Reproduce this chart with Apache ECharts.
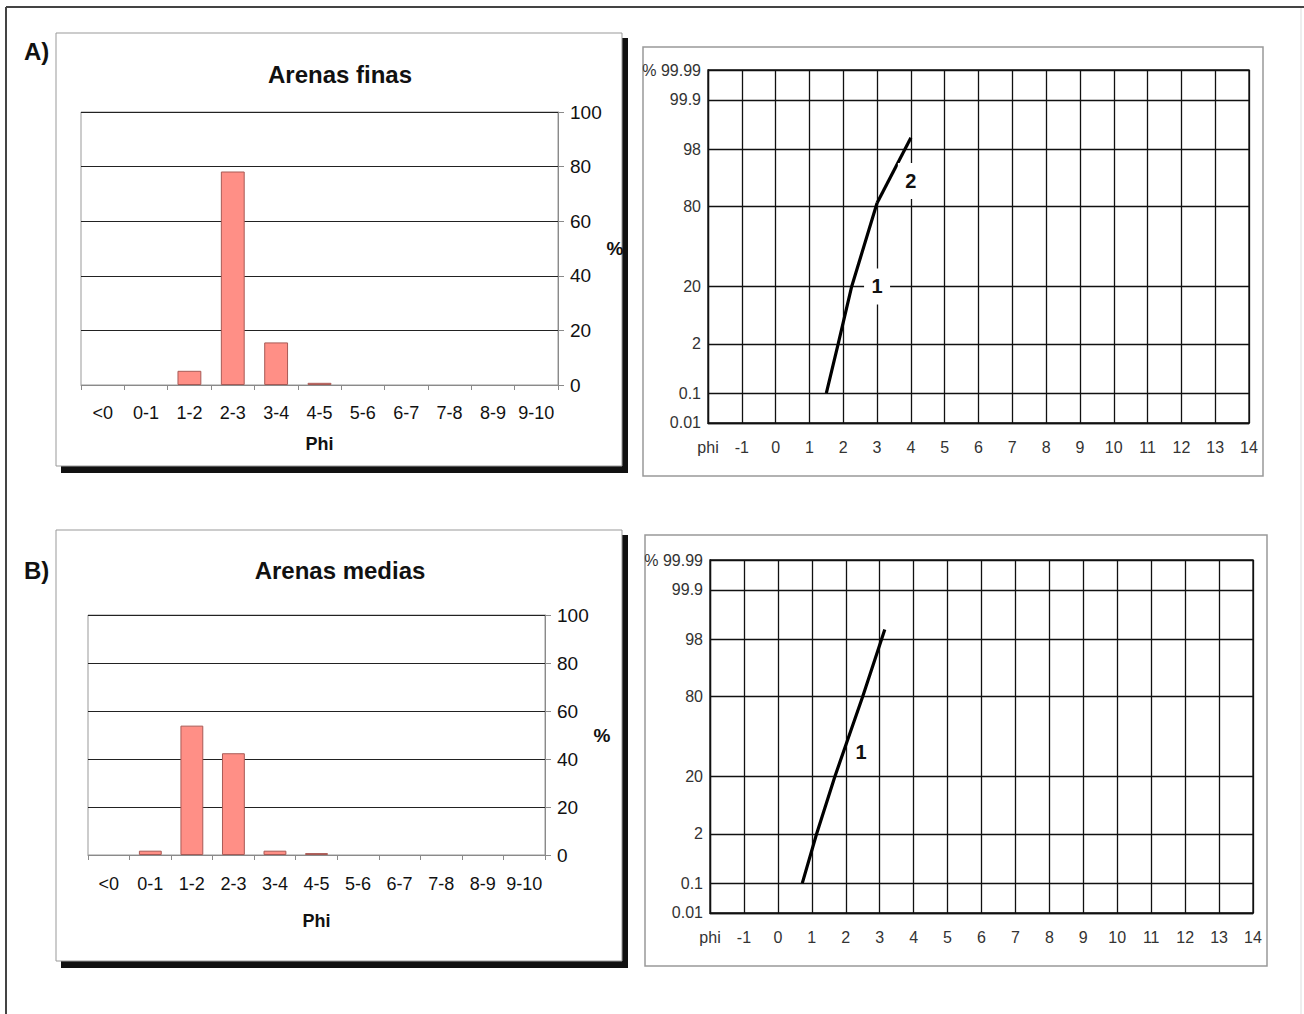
<!DOCTYPE html>
<html><head><meta charset="utf-8">
<script src="https://cdn.jsdelivr.net/npm/echarts@6/dist/echarts.min.js"></script>
<style>html,body{margin:0;padding:0;background:#fff}#c{width:1304px;height:1014px}</style>
</head><body><div id="c"></div>
<script>
// ---------- data ----------
const phiCats = ['<0','0-1','1-2','2-3','3-4','4-5','5-6','6-7','7-8','8-9','9-10'];
const finasPct = [0, 0, 5.2, 78.2, 15.6, 0.8, 0, 0, 0, 0, 0];
const mediasPct = [0, 1.8, 53.9, 42.4, 1.8, 0.8, 0, 0, 0, 0, 0];
const probTicks = [0.01, 0.1, 2, 20, 80, 98, 99.9, 99.99];
const phiMin = -2, phiMax = 14;
// cumulative curves [phi, cumulative %]
const finasSeg1 = [[1.5, 0.1], [1.85, 2], [2.25, 20], [3.0, 82]];
const finasSeg2 = [[3.0, 82], [4.0, 98.9]];
const mediasSeg1 = [[0.72, 0.1], [1.14, 2], [1.68, 20], [2.5, 80], [3.15, 98.8]];
// segment labels [phi, %, text]
const finasNotes = [[3.0, 20, '1'], [4.0, 91.6, '2']];
const mediasNotes = [[2.45, 37, '1']];

// ---------- probability (probit) scale ----------
function probit(p){
  const a=[-3.969683028665376e+01,2.209460984245205e+02,-2.759285104469687e+02,1.383577518672690e+02,-3.066479806614716e+01,2.506628277459239e+00];
  const b=[-5.447609879822406e+01,1.615858368580409e+02,-1.556989798598866e+02,6.680131188771972e+01,-1.328068155288572e+01];
  const c=[-7.784894002430293e-03,-3.223964580411365e-01,-2.400758277161838e+00,-2.549732539343734e+00,4.374664141464968e+00,2.938163982698783e+00];
  const d=[7.784695709041462e-03,3.224671290700398e-01,2.445134137142996e+00,3.754408661907416e+00];
  const pl=0.02425, ph=1-pl; let q, r;
  if(p<pl){q=Math.sqrt(-2*Math.log(p));return (((((c[0]*q+c[1])*q+c[2])*q+c[3])*q+c[4])*q+c[5])/((((d[0]*q+d[1])*q+d[2])*q+d[3])*q+1);}
  if(p<=ph){q=p-0.5;r=q*q;return (((((a[0]*r+a[1])*r+a[2])*r+a[3])*r+a[4])*r+a[5])*q/(((((b[0]*r+b[1])*r+b[2])*r+b[3])*r+b[4])*r+1);}
  q=Math.sqrt(-2*Math.log(1-p));return -(((((c[0]*q+c[1])*q+c[2])*q+c[3])*q+c[4])*q+c[5])/((((d[0]*q+d[1])*q+d[2])*q+d[3])*q+1);
}
const z = pct => probit(pct / 100);
const zMin = z(probTicks[0]), zMax = z(probTicks[probTicks.length - 1]);
const zIn = pct => Math.min(Math.max(z(pct), zMin + 1e-6), zMax - 1e-6);

// ---------- styles ----------
const FONT = '"Liberation Sans", Arial, sans-serif';
const barFill = '#FF8F86', barEdge = '#A85A55';

function barAxes(gi, labelMargin, nameGap){
  return {
    x: {
      type: 'category', gridIndex: gi, data: phiCats,
      axisLine: {lineStyle: {color: '#8a8a8a', width: 1}},
      axisTick: {show: true, length: 5, lineStyle: {color: '#8a8a8a'}},
      axisLabel: {interval: 0, fontSize: 18, color: '#111', margin: labelMargin, fontFamily: FONT},
      name: 'Phi', nameLocation: 'middle', nameGap: nameGap,
      nameTextStyle: {fontSize: 18, fontWeight: 'bold', color: '#111', fontFamily: FONT}
    },
    y: {
      type: 'value', gridIndex: gi, position: 'right', min: 0, max: 100, interval: 20,
      axisLine: {show: true, lineStyle: {color: '#8a8a8a'}},
      axisTick: {show: true, length: 6, lineStyle: {color: '#8a8a8a'}},
      axisLabel: {fontSize: 19, color: '#111', margin: 12, fontFamily: FONT},
      splitLine: {show: true, lineStyle: {color: '#222', width: 1}},
      name: '%', nameLocation: 'middle', nameGap: 48, nameRotate: 0,
      nameTextStyle: {fontSize: 19, fontWeight: 'bold', color: '#111', fontFamily: FONT}
    }
  };
}
function probAxes(gi){
  return {
    x: {
      type: 'value', gridIndex: gi, min: phiMin, max: phiMax, interval: 1,
      axisLine: {show: true, onZero: false, lineStyle: {color: '#111', width: 1.3}},
      axisTick: {show: false},
      axisLabel: {fontSize: 16, color: '#333', margin: 16, fontFamily: FONT,
        showMinLabel: true, showMaxLabel: true,
        formatter: v => v === phiMin ? 'phi' : String(v)},
      splitLine: {show: true, lineStyle: {color: '#111', width: 1.3}}
    },
    y: {
      type: 'value', gridIndex: gi, min: zMin, max: zMax,
      axisLine: {show: true, onZero: false, lineStyle: {color: '#111', width: 1.3}},
      axisTick: {show: false}, axisLabel: {show: false}, splitLine: {show: false}
    }
  };
}
const A0 = barAxes(0, 19, 50), B0 = barAxes(1, 20, 57), A1 = probAxes(2), B1 = probAxes(3);

function gridLineSeries(gi){
  return {
    type: 'line', xAxisIndex: gi, yAxisIndex: gi, z: 1, silent: true,
    data: probTicks.map(p => [phiMin, zIn(p)]), showSymbol: false, symbol: 'none',
    lineStyle: {width: 0, opacity: 0},
    markLine: {
      silent: true, symbol: 'none', animation: false, precision: 6,
      lineStyle: {color: '#111', width: 1.3, type: 'solid'},
      data: probTicks.map((p, i) => ({
        yAxis: zIn(p),
        label: {show: true, position: 'start', distance: 7, fontSize: 16, color: '#333',
          fontFamily: FONT, formatter: (i === probTicks.length - 1 ? '% ' : '') + String(p)}
      }))
    }
  };
}
function curveSeries(gi, pts){
  return {
    type: 'line', xAxisIndex: gi, yAxisIndex: gi, z: 5, silent: true,
    data: pts.map(d => [d[0], z(d[1])]), showSymbol: false, symbol: 'none',
    lineStyle: {color: '#000', width: 3.2}
  };
}
function noteSeries(gi, notes, size){
  return {
    type: 'scatter', xAxisIndex: gi, yAxisIndex: gi, z: 10, silent: true,
    symbol: 'rect', symbolSize: size, itemStyle: {color: '#fff', opacity: 1},
    data: notes.map(n => ({name: n[2], value: [n[0], z(n[1])]})),
    label: {show: true, position: 'inside', formatter: '{b}', fontSize: 20, fontWeight: 'bold',
      color: '#111', fontFamily: FONT}
  };
}
function barSeries(gi, vals){
  return {
    type: 'bar', xAxisIndex: gi, yAxisIndex: gi, barCategoryGap: '45%', z: 3,
    data: vals.map(v => v === 0 ? {value: v, itemStyle: {borderWidth: 0}} : v),
    itemStyle: {color: barFill, borderColor: barEdge, borderWidth: 1}
  };
}

const chart = echarts.init(document.getElementById('c'), null, {renderer: 'svg'});
chart.setOption({
  animation: false,
  backgroundColor: '#fff',
  textStyle: {fontFamily: FONT},
  grid: [
    {left: 81, top: 112, width: 477, height: 273, show: true, borderColor: '#999', borderWidth: 1},
    {left: 88, top: 615, width: 457, height: 240, show: true, borderColor: '#999', borderWidth: 1},
    {left: 708, top: 70, width: 541, height: 353, show: true, borderColor: '#111', borderWidth: 1.3},
    {left: 710, top: 560, width: 543, height: 353, show: true, borderColor: '#111', borderWidth: 1.3}
  ],
  xAxis: [A0.x, B0.x, A1.x, B1.x],
  yAxis: [A0.y, B0.y, A1.y, B1.y],
  series: [
    barSeries(0, finasPct),
    barSeries(1, mediasPct),
    gridLineSeries(2), gridLineSeries(3),
    curveSeries(2, finasSeg1), curveSeries(2, finasSeg2),
    curveSeries(3, mediasSeg1),
    noteSeries(2, finasNotes, [26, 36]),
    noteSeries(3, mediasNotes, [16, 24])
  ],
  graphic: [
    {type: 'line', z: -20, shape: {x1: 6, y1: 7, x2: 1304, y2: 7}, style: {stroke: '#444', lineWidth: 2}},
    {type: 'line', z: -20, shape: {x1: 6, y1: 7, x2: 6, y2: 1014}, style: {stroke: '#444', lineWidth: 2}},
    {type: 'line', z: -20, shape: {x1: 1301, y1: 8, x2: 1301, y2: 1014}, style: {stroke: '#ddd', lineWidth: 1}},
    {type: 'rect', z: -15, shape: {x: 61, y: 38, width: 567, height: 435}, style: {fill: '#111'}},
    {type: 'rect', z: -14, shape: {x: 56, y: 33, width: 566, height: 433}, style: {fill: '#fff', stroke: '#999', lineWidth: 1}},
    {type: 'rect', z: -15, shape: {x: 61, y: 535, width: 567, height: 433}, style: {fill: '#111'}},
    {type: 'rect', z: -14, shape: {x: 56, y: 530, width: 566, height: 431}, style: {fill: '#fff', stroke: '#999', lineWidth: 1}},
    {type: 'rect', z: -14, shape: {x: 643, y: 47, width: 620, height: 429}, style: {fill: '#fff', stroke: '#999', lineWidth: 1.5}},
    {type: 'rect', z: -14, shape: {x: 645, y: 535, width: 622, height: 431}, style: {fill: '#fff', stroke: '#999', lineWidth: 1.5}},
    {type: 'text', x: 24, y: 51, style: {text: 'A)', fill: '#111', font: 'bold 24px ' + FONT, verticalAlign: 'middle'}},
    {type: 'text', x: 24, y: 570, style: {text: 'B)', fill: '#111', font: 'bold 24px ' + FONT, verticalAlign: 'middle'}},
    {type: 'text', x: 340, y: 74, style: {text: 'Arenas finas', fill: '#111', font: 'bold 24px ' + FONT, align: 'center', verticalAlign: 'middle'}},
    {type: 'text', x: 340, y: 570, style: {text: 'Arenas medias', fill: '#111', font: 'bold 24px ' + FONT, align: 'center', verticalAlign: 'middle'}}
  ]
});
</script>
</body></html>
